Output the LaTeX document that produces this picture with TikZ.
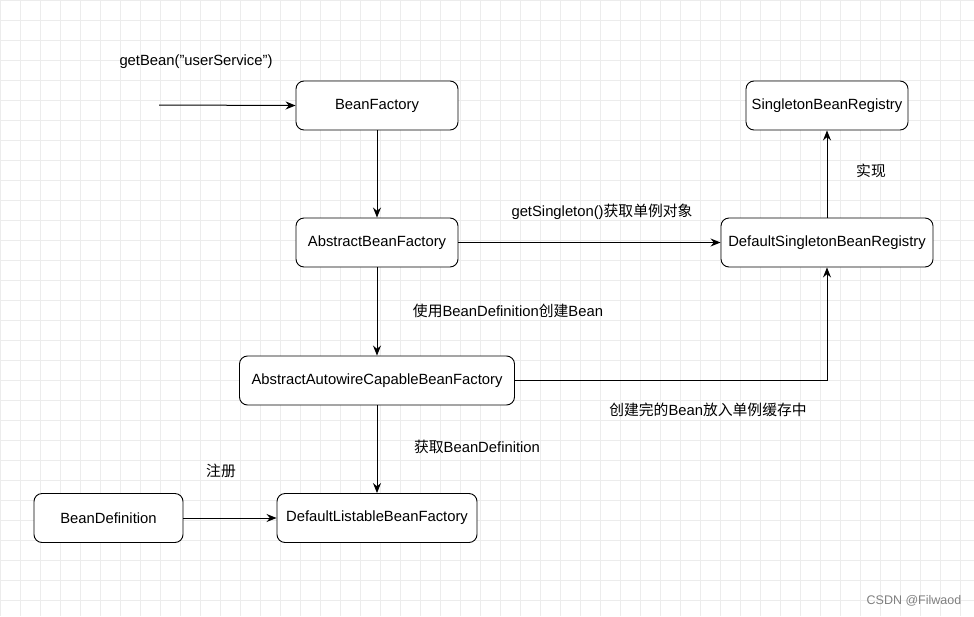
\documentclass[tikz,border=0pt]{standalone}
\usepackage{fontspec}
\setmainfont{Liberation Sans}
\newfontfamily\cjk{Noto Sans CJK SC}
\usetikzlibrary{arrows.meta}
\begin{document}
\begin{tikzpicture}[x=1pt,y=-1pt,
  box/.style={draw,rounded corners=8pt,minimum height=49pt,inner sep=0pt,font=\fontsize{14.8}{17}\selectfont,fill=white,line width=0.9pt},
  lbl/.style={font=\fontsize{14.8}{17}\selectfont},
  arr/.style={-{Stealth[length=10pt,width=8pt]},line width=1pt}]
\useasboundingbox (0,0) rectangle (974,616);
\fill[white] (0,0) rectangle (974,616);
\draw[gray!15,step=20pt] (0,0) grid (974,616);
\node[box,minimum width=162pt] (bf) at (377,105.5) {BeanFactory};
\node[box,minimum width=162pt] (sbr) at (827,105.5) {SingletonBeanRegistry};
\node[box,minimum width=162pt] (abf) at (377,242.5) {AbstractBeanFactory};
\node[box,minimum width=212pt] (dsbr) at (827,242.5) {DefaultSingletonBeanRegistry};
\node[box,minimum width=275pt] (aacbf) at (377,380.5) {AbstractAutowireCapableBeanFactory};
\node[box,minimum width=149pt] (bd) at (108.5,518) {BeanDefinition};
\node[box,minimum width=200pt] (dlbf) at (377,518) {DefaultListableBeanFactory};
\coordinate (start) at (159,105);
\coordinate (corner) at (827,380.5);
\draw[arr] (start) -- (bf.west);
\draw[arr] (bf) -- (abf);
\draw[arr] (abf) -- (dsbr);
\draw[arr] (dsbr) -- (sbr);
\draw[arr] (abf) -- (aacbf);
\draw[arr] (aacbf) -- (dlbf);
\draw[arr] (bd) -- (dlbf);
\draw[arr] (aacbf.east) -- (corner) -- (dsbr.south);
\node[lbl] (l1) at (196,62) {getBean("userService")};
\node[lbl] (l2) at (871,171) {\cjk 实现};
\node[lbl] (l3) at (602,212) {getSingleton()\cjk 获取单例对象};
\node[lbl] (l4) at (508,311) {{\cjk 使用}BeanDefinition{\cjk 创建}Bean};
\node[lbl] (l5) at (708,410) {{\cjk 创建完的}Bean{\cjk 放入单例缓存中}};
\node[lbl] (l6) at (477,447) {{\cjk 获取}BeanDefinition};
\node[lbl] (l7) at (221,471) {\cjk 注册};
\node[font=\fontsize{12.5}{14}\selectfont,text=gray] (l8) at (914,601) {CSDN @Filwaod};
\end{tikzpicture}
\end{document}
